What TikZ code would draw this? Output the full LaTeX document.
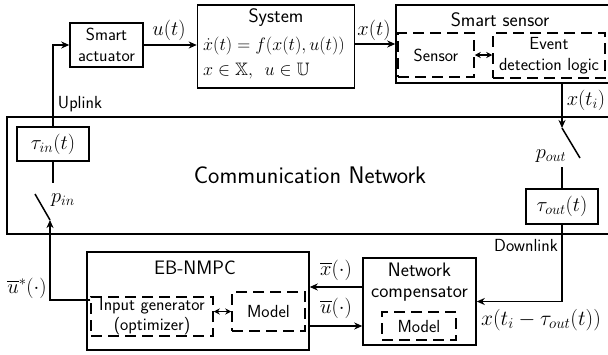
\RequirePackage{fix-cm}
\documentclass[tikz,border=0pt]{standalone}
\usepackage{amsmath,amssymb}
\usetikzlibrary{arrows.meta}
\tikzset{
  blk/.style={draw, line width=1.5pt, inner sep=0pt, align=center},
  dbox/.style={draw, line width=1.5pt, dash pattern=on 11pt off 6pt, inner sep=0pt, align=center},
  conn/.style={line width=1.5pt},
  arr/.style={line width=1.5pt, -{Stealth[length=8pt,width=7pt,inset=2.5pt]}},
  darr/.style={line width=1.5pt, {Stealth[length=6pt,width=6pt,inset=2pt]}-{Stealth[length=6pt,width=6pt,inset=2pt]}},
  lbl/.style={inner sep=0pt},
  mth/.style={font=\fontsize{20.5}{24}\selectfont},
  ttl/.style={inner sep=0pt, font=\sffamily\fontsize{19.5}{21}\selectfont},
}
\begin{document}
\begin{tikzpicture}[x=1pt,y=-1pt,
  every node/.style={font=\sffamily\fontsize{17.5}{20.5}\selectfont}]
\useasboundingbox (0,0) rectangle (608,354);
\clip (0,0) rectangle (608,354);

% top row
\node[blk, minimum width=73, minimum height=44] (act) at (106.5,45) {Smart\\actuator};
\node[blk, minimum width=157, minimum height=83] (sys) at (276,46.5) {};
\node[ttl] (systitle) at (276,18) {System};
\node[lbl, anchor=west, font=\fontsize{18}{21}\selectfont] (syseq) at (203,46) {$\dot{x}(t)=f(x(t),u(t))$};
\node[lbl, anchor=west, font=\fontsize{18}{21}\selectfont] (sysset) at (203,71) {$x\in\mathbb{X},\ \,u\in\mathbb{U}$};

\node[blk, minimum width=220, minimum height=78] (ss) at (506,44) {};
\node[ttl] (sstitle) at (500,20) {Smart sensor};
\node[dbox, minimum width=76, minimum height=44] (sen) at (436,55) {Sensor};
\node[dbox, minimum width=112, minimum height=45] (evt) at (549,55.5) {Event\\detection logic};
\draw[darr] (sen.east) -- (sen.east -| evt.west);

\draw[arr] (act.east) -- (act.east -| sys.west);
\draw[arr] (sys.east |- ss.west) -- (ss.west);
\node[lbl, mth] (ulab) at (169,30) {$u(t)$};
\node[lbl, mth] (xlab) at (374,30) {$x(t)$};

% network
\node[blk, minimum width=620, minimum height=117] (net) at (317,175.5) {};
\node[lbl, font=\sffamily\fontsize{24}{27}\selectfont] (nettitle) at (310,175) {Communication Network};
\node[blk, mth, minimum width=72, minimum height=34] (tin) at (53,144) {$\tau_{in}(t)$};
\node[blk, mth, minimum width=72, minimum height=35] (tout) at (562,206.5) {$\tau_{out}(t)$};

\coordinate (pinTop) at (53,183);
\coordinate (pinA) at (35,194);
\coordinate (pinB) at (50,220);
\coordinate (poutTop) at (562,128);
\coordinate (poutEnd) at (580,158);
\coordinate (poutBot) at (562,167);
\coordinate (sdown) at (ss.south -| poutTop);

\draw[arr] (tin.north) |- (act.west);
\draw[conn] (tin.south) -- (pinTop);
\draw[conn] (pinA) -- (pinB);
\draw[arr] (sdown) -- (poutTop);
\draw[conn] (poutTop) -- (poutEnd);
\draw[conn] (poutBot) -- (tout.north);

\node[lbl] (uplink) at (80,104) {Uplink};
\node[lbl, mth] (xti) at (586,100) {$x(t_i)$};
\node[lbl, mth] (pin) at (63,200) {$p_{in}$};
\node[lbl, mth] (pout) at (551,156) {$p_{out}$};
\node[lbl] (downlink) at (526,245) {Downlink};

% bottom row
\node[blk, minimum width=222, minimum height=98] (mpc) at (198,301) {};
\node[ttl] (mpctitle) at (195,268) {EB-NMPC};
\node[dbox, minimum width=122, minimum height=39] (ig) at (152,316.5) {Input generator\\(optimizer)};
\node[dbox, minimum width=73, minimum height=39] (mdl) at (268.5,311.5) {Model};
\draw[darr] (ig.east |- mdl.west) -- (mdl.west);

\node[blk, minimum width=113, minimum height=87] (nc) at (419.5,301.5) {};
\node[ttl, align=center] (nctitle) at (419.5,282) {Network\\compensator};
\node[dbox, minimum width=74, minimum height=28] (ncm) at (419,326) {Model};

\coordinate (xbarY) at (0,287);
\coordinate (ubarY) at (0,326);
\coordinate (ustarY) at (0,300);
\draw[arr] (nc.west |- xbarY) -- (mpc.east |- xbarY);
\draw[arr] (mpc.east |- ubarY) -- (nc.west |- ubarY);
\draw[arr] (ig.west |- ustarY) -| (pinB);
\draw[arr] (tout.south) |- (nc.east);

\node[lbl, mth] (xbar) at (336,270) {$\overline{x}(\cdot)$};
\node[lbl, mth] (ubar) at (336,308) {$\overline{u}(\cdot)$};
\node[lbl, mth] (ustar) at (27,288) {$\overline{u}^{*}(\cdot)$};
\node[lbl, font=\fontsize{21.5}{24}\selectfont] (xdel) at (541,320) {$x(t_i-\tau_{out}(t))$};
\end{tikzpicture}
\end{document}
